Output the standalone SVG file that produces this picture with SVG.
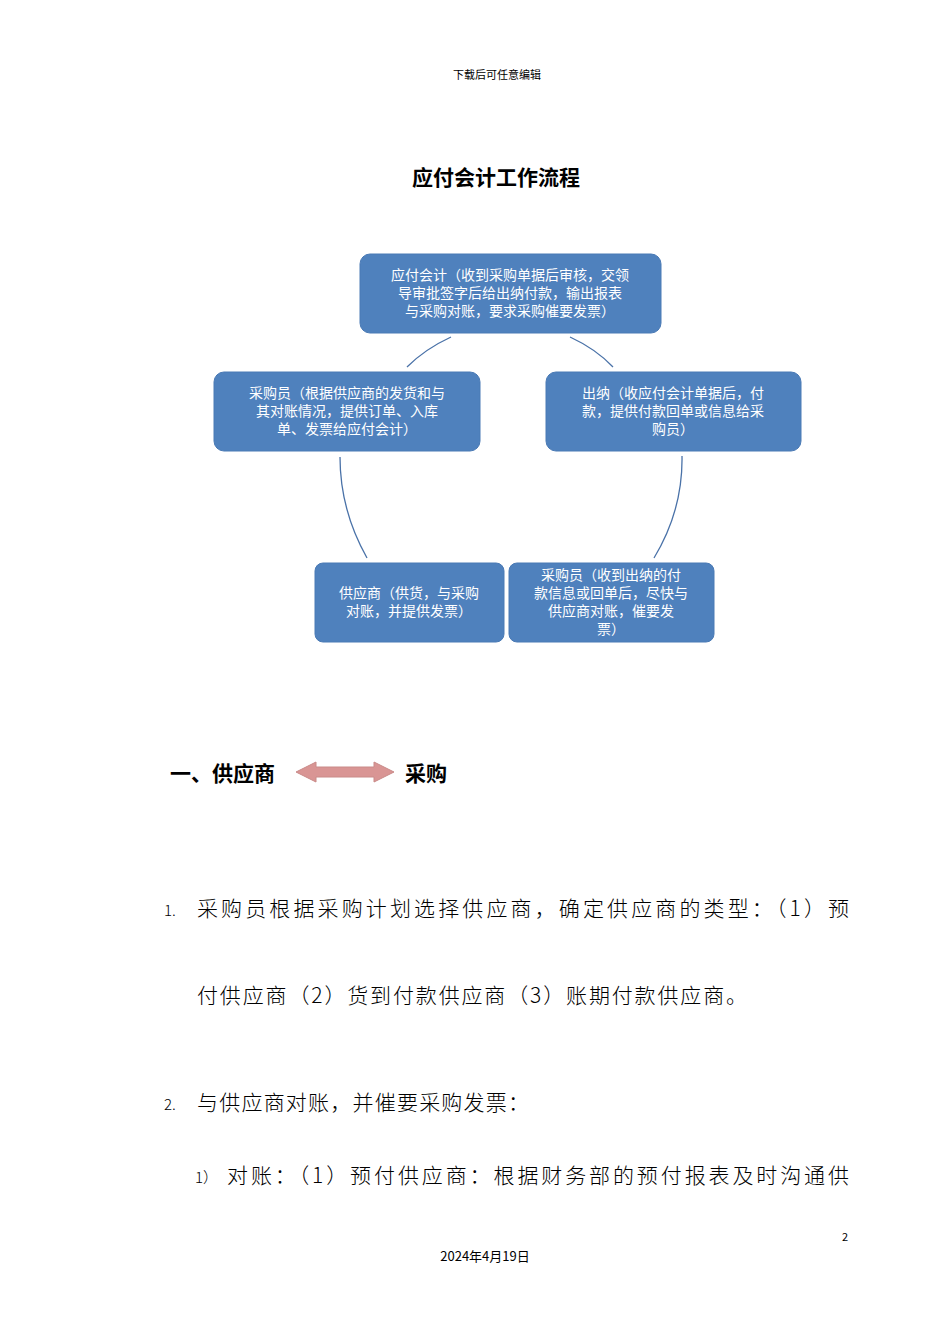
<svg xmlns="http://www.w3.org/2000/svg" width="950" height="1344" viewBox="0 0 950 1344">
<style>
.t{font-family:"Noto Sans CJK SC","Noto Sans",sans-serif;fill:#000}
.b{fill:#4f81bd;stroke:#4a7ab5;stroke-width:1}
.w{font-family:"Noto Sans CJK SC",sans-serif;fill:#fff;font-size:14px;text-anchor:middle}
.c{fill:none;stroke:#4a72a8;stroke-width:1.3}
</style>
<rect width="950" height="1344" fill="#fff"/>
<text class="t" x="497" y="79" font-size="11" text-anchor="middle">下载后可任意编辑</text>
<text class="t" x="496" y="185" font-size="21" font-weight="bold" text-anchor="middle">应付会计工作流程</text>
<g id="connectors">
<path class="c" d="M407 367 Q425 349 451 337"/>
<path class="c" d="M570 337 Q596 349 613 367"/>
<path class="c" d="M340 457 Q340 510 367 558"/>
<path class="c" d="M682 456 Q683 510 654 558"/>
</g>
<g id="n1"><rect class="b" x="360" y="254" width="301" height="79" rx="10"/>
<text class="w" x="510" y="280">应付会计（收到采购单据后审核，交领</text><text class="w" x="510" y="298">导审批签字后给出纳付款，输出报表</text><text class="w" x="510" y="316">与采购对账，要求采购催要发票）</text></g>
<g id="n2"><rect class="b" x="214" y="372" width="266" height="79" rx="10"/>
<text class="w" x="347" y="398">采购员（根据供应商的发货和与</text><text class="w" x="347" y="416">其对账情况，提供订单、入库</text><text class="w" x="347" y="434">单、发票给应付会计）</text></g>
<g id="n3"><rect class="b" x="546" y="372" width="255" height="79" rx="10"/>
<text class="w" x="673" y="398">出纳（收应付会计单据后，付</text><text class="w" x="673" y="416">款，提供付款回单或信息给采</text><text class="w" x="673" y="434">购员）</text></g>
<g id="n4"><rect class="b" x="315" y="563" width="189" height="79" rx="8"/>
<text class="w" x="409" y="598">供应商（供货，与采购</text><text class="w" x="409" y="616">对账，并提供发票）</text></g>
<g id="n5"><rect class="b" x="509" y="563" width="205" height="79" rx="8"/>
<text class="w" x="611" y="580">采购员（收到出纳的付</text><text class="w" x="611" y="598">款信息或回单后，尽快与</text><text class="w" x="611" y="616">供应商对账，催要发</text><text class="w" x="611" y="634">票）</text></g>
<text class="t" x="170" y="781" font-size="21" font-weight="bold">一、供应商</text>
<polygon points="296,772 316,762 316,767 374,767 374,762 394,772 374,782 374,777 316,777 316,782" fill="#d99594" stroke="#c98a88"/>
<text class="t" x="405" y="781" font-size="21" font-weight="bold">采购</text>
<g class="t" font-size="21" font-weight="300">
<text x="164" y="916" font-size="15">1.</text>
<text x="197" y="916" textLength="652" lengthAdjust="spacing">采购员根据采购计划选择供应商，确定供应商的类型：（1）预</text>
<text x="197" y="1003" textLength="550" lengthAdjust="spacing">付供应商（2）货到付款供应商（3）账期付款供应商。</text>
<text x="164" y="1110" font-size="15">2.</text>
<text x="197" y="1110" textLength="332" lengthAdjust="spacing">与供应商对账，并催要采购发票：</text>
<text x="195" y="1183" font-size="15">1）</text>
<text x="227" y="1183" textLength="622" lengthAdjust="spacing">对账：（1）预付供应商：根据财务部的预付报表及时沟通供</text>
</g>
<text class="t" x="848" y="1241" font-size="11" text-anchor="end">2</text>
<text class="t" x="485" y="1261" font-size="13" text-anchor="middle">2024年4月19日</text>
</svg>
